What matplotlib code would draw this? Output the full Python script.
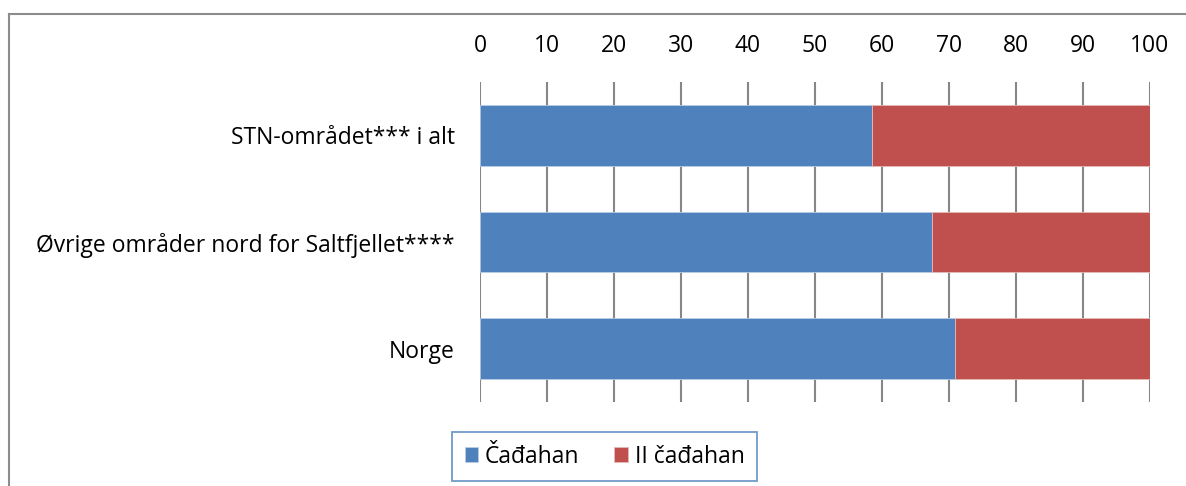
import matplotlib
matplotlib.use("Agg")
import matplotlib.pyplot as plt
from matplotlib.lines import Line2D

categories = ["STN-området*** i alt", "Øvrige områder nord for Saltfjellet****", "Norge"]
cadahan = [58.5, 67.4, 70.9]
ii_cadahan = [41.5, 32.6, 29.1]
series_names = ["Čađahan", "II čađahan"]
xticks = list(range(0, 101, 10))

plt.rcParams['font.family'] = ['Open Sans', 'DejaVu Sans']
FS = 16.5

fig = plt.figure(figsize=(11.86, 4.86), dpi=100)
ax = fig.add_axes([480/1186, 1-402/486, 670/1186, 320/486])

y = list(range(len(categories)))
ax.barh(y, cadahan, height=0.57, color="#4F81BD", edgecolor="#B9CDE5", linewidth=0.6, label=series_names[0], zorder=3)
ax.barh(y, ii_cadahan, left=cadahan, height=0.57, color="#C0504D", edgecolor="#E6B9B8", linewidth=0.6, label=series_names[1], zorder=3)

ax.set_xlim(0, 100)
ax.set_ylim(len(categories)-0.5, -0.5)
ax.set_xticks(xticks)
ax.set_yticks(y)
ax.set_yticklabels(categories, fontsize=FS)
ax.xaxis.tick_top()
ax.tick_params(axis='x', length=0, pad=17, labelsize=FS)
ax.tick_params(axis='y', length=0, pad=18)
ax.grid(axis='x', color="#868686", linewidth=1.5, zorder=0)
for s in ax.spines.values():
    s.set_visible(False)

# outer chart frame (partially visible)
fig.add_artist(Line2D([9/1186, 1], [1-14/486, 1-14/486], color="#8C8C8C", linewidth=1.5, transform=fig.transFigure))
fig.add_artist(Line2D([9/1186, 9/1186], [1-14/486, 0], color="#8C8C8C", linewidth=1.5, transform=fig.transFigure))

leg = fig.legend(loc='center', bbox_to_anchor=(604.5/1186, 1-456.5/486), ncol=2, fontsize=FS,
                 fancybox=False, handlelength=0.6, handleheight=0.6, handletextpad=0.3,
                 columnspacing=1.5, borderpad=0.55, borderaxespad=0)
leg.get_frame().set_edgecolor("#4F81BD")
leg.get_frame().set_linewidth(1.3)

fig.savefig("out.png", dpi=100)
